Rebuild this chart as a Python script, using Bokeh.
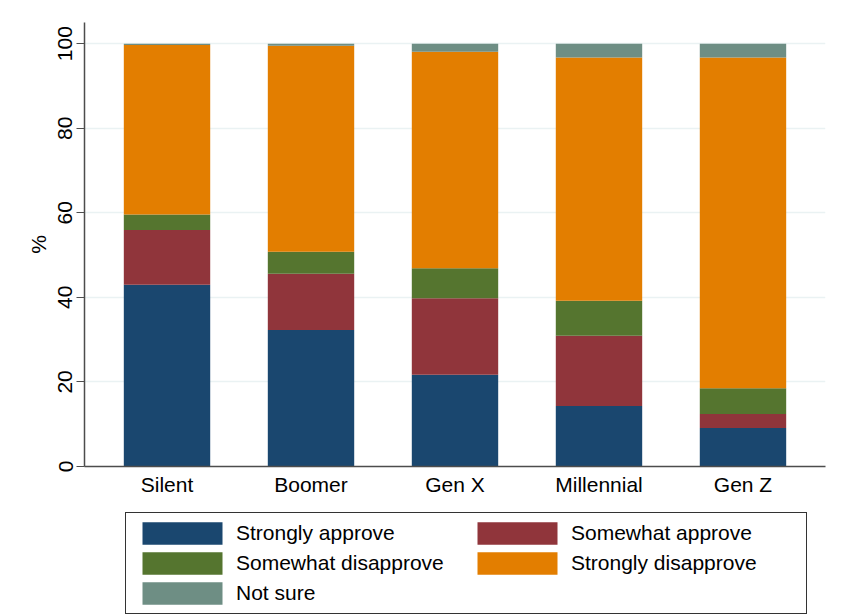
from bokeh.plotting import figure
from bokeh.layouts import column
from bokeh.models import ColumnDataSource, FactorRange, Range1d, Legend, LegendItem, FixedTicker
from bokeh.embed import file_html
from bokeh.resources import INLINE

generations = ["Silent", "Boomer", "Gen X", "Millennial", "Gen Z"]
strongly_approve = [43.0, 32.3, 21.7, 14.3, 9.1]
somewhat_approve = [12.9, 13.3, 18.1, 16.6, 3.3]
somewhat_disapprove = [3.7, 5.2, 7.1, 8.3, 6.1]
strongly_disapprove = [40.1, 48.7, 51.2, 57.5, 78.2]
not_sure = [0.3, 0.5, 1.9, 3.3, 3.3]

series_keys = ["sa", "wa", "wd", "sd", "ns"]
series_labels = ["Strongly approve", "Somewhat approve", "Somewhat disapprove",
                 "Strongly disapprove", "Not sure"]
series_colors = ["#1a476f", "#90353b", "#55752f", "#e37e00", "#6e8e84"]
y_ticks = [0, 20, 40, 60, 80, 100]

source = ColumnDataSource(dict(
    gen=generations,
    sa=strongly_approve,
    wa=somewhat_approve,
    wd=somewhat_disapprove,
    sd=strongly_disapprove,
    ns=not_sure,
))

FONT = "Liberation Sans"
FS = "21px"

p = figure(
    width=847, height=500,
    x_range=FactorRange(*generations, range_padding=0.073, range_padding_units="absolute"),
    y_range=Range1d(0, 105),
    output_backend="svg", toolbar_location=None,
    min_border_left=84, min_border_right=22, min_border_top=22, min_border_bottom=34,
)
p.outline_line_color = None
p.background_fill_color = "white"
p.border_fill_color = "white"

p.vbar_stack(series_keys, x="gen", width=0.6, source=source,
             color=series_colors, line_color=None)

# axes
p.yaxis.ticker = FixedTicker(ticks=y_ticks)
p.yaxis.major_label_orientation = "vertical"
p.yaxis.axis_label = "%"
p.yaxis.axis_label_text_font_style = "normal"
for ax in (p.xaxis[0], p.yaxis[0]):
    ax.axis_line_color = "#4d4d4d"
    ax.axis_line_width = 1.5
    ax.major_label_text_font = FONT
    ax.major_label_text_font_size = FS
    ax.major_label_text_color = "black"
    ax.axis_label_text_font = FONT
    ax.axis_label_text_font_size = FS
    ax.axis_label_text_color = "black"
    ax.minor_tick_line_color = None
p.yaxis.major_tick_out = 8
p.yaxis.major_tick_in = 0
p.yaxis.major_tick_line_color = "#4d4d4d"
p.yaxis.major_label_standoff = 4
p.yaxis.axis_label_standoff = 6
p.xaxis.major_tick_line_color = None
p.xaxis.major_tick_out = 0
p.xaxis.major_tick_in = 0
p.xaxis.major_label_standoff = 6

p.xgrid.grid_line_color = None
p.ygrid.grid_line_color = "#eaf2f3"
p.ygrid.grid_line_width = 1.5

# legend panel: a second figure whose frame holds the legend (bars kept out of view)
lg = figure(
    width=847, height=116,
    x_range=FactorRange(*generations), y_range=Range1d(500, 600),
    output_backend="svg", toolbar_location=None,
    x_axis_location=None, y_axis_location=None,
    min_border_left=0, min_border_right=0, min_border_top=0, min_border_bottom=0,
)
lg.outline_line_color = None
lg.grid.grid_line_color = None
lg.border_fill_color = "white"
lg_renderers = lg.vbar_stack(series_keys, x="gen", width=0.6, source=source,
                             color=series_colors, line_color=None)

items = [LegendItem(label=lab, renderers=[r]) for lab, r in zip(series_labels, lg_renderers)]
legend = Legend(items=items, location=(41, 2), orientation="horizontal", ncols=2,
                glyph_width=100, glyph_height=28, label_height=22, label_width=229,
                label_standoff=4, spacing=2, padding=6, margin=0,
                label_text_font=FONT, label_text_font_size=FS, label_text_color="black",
                border_line_color="#333333", border_line_alpha=1.0, border_line_width=1,
                background_fill_color="white", background_fill_alpha=1.0)
lg.add_layout(legend, "center")

layout = column(p, lg, spacing=0)
open("out.html", "w").write(file_html(layout, INLINE))
